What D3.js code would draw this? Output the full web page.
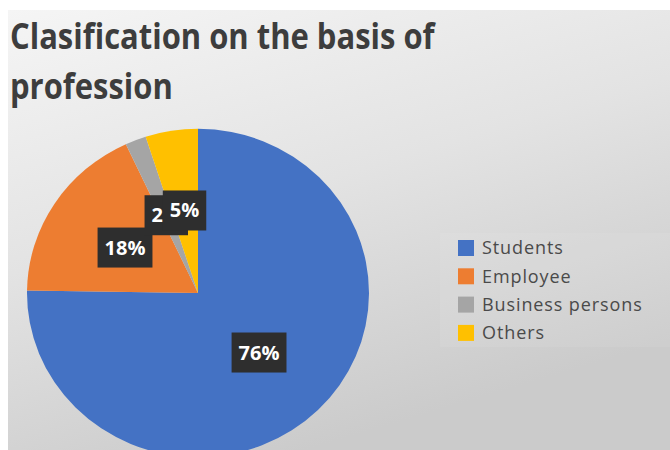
<!DOCTYPE html>
<html>
<head>
  <meta charset="utf-8" />
  <style>
    body { margin: 0; background: #fff; }
    text { font-family: "Open Sans", "Noto Sans", sans-serif; }
  </style>
</head>
<body>
  <svg id="container" width="670" height="450"></svg>
  <script src="https://cdn.jsdelivr.net/npm/d3@7/dist/d3.min.js"></script>
<script>
var categories = ['Students', 'Employee', 'Business persons', 'Others'];
var shares = [76, 18, 2, 5];
var colors = ['#4472c4', '#ed7d31', '#a5a5a5', '#ffc000'];
var titleLines = ['Clasification on the basis of', 'profession'];

var svg = d3.select('#container');

// background, photographed screen: light at the top, greyer to the bottom right
var defs = svg.append('defs');
var grad = defs.append('linearGradient')
  .attr('id', 'bg')
  .attr('x1', 0).attr('y1', 0).attr('x2', 0.45).attr('y2', 1);
grad.append('stop').attr('offset', 0).attr('stop-color', '#f5f5f5');
grad.append('stop').attr('offset', 0.5).attr('stop-color', '#e3e3e3');
grad.append('stop').attr('offset', 1).attr('stop-color', '#cbcbcb');

svg.append('rect')
  .attr('x', 8).attr('y', 10)
  .attr('width', 662).attr('height', 440)
  .attr('fill', 'url(#bg)');

// title (font squeezed a little to match the narrower original face)
svg.append('text')
  .attr('transform', 'translate(10,0) scale(0.885,1)')
  .attr('fill', '#3d3d3d')
  .attr('font-size', 35)
  .attr('font-weight', 700)
  .selectAll('tspan')
  .data(titleLines)
  .enter().append('tspan')
    .attr('x', 0)
    .attr('y', function (d, i) { return 49 + i * 50; })
    .text(function (d) { return d; });

// pie, a touch flattened like the photo
var cx = 198, cy = 293, R = 171, squash = 0.96;

var pie = d3.pie().sort(null).value(function (d) { return d; });
var arcs = pie(shares);
var arc = d3.arc().innerRadius(0).outerRadius(R);
var labelArc = d3.arc().innerRadius(87).outerRadius(87);

var g = svg.append('g')
  .attr('transform', 'translate(' + cx + ',' + cy + ')');

g.append('g')
  .attr('transform', 'scale(1,' + squash + ')')
  .selectAll('path')
  .data(arcs)
  .enter().append('path')
    .attr('d', arc)
    .attr('fill', function (d, i) { return colors[i]; });

// data labels: dark boxes with white text
var labels = g.selectAll('g.lbl')
  .data(arcs)
  .enter().append('g')
    .attr('class', 'lbl')
    .attr('transform', function (d) {
      var c = labelArc.centroid(d);
      return 'translate(' + c[0] + ',' + (c[1] * squash) + ')';
    });

labels.append('rect').attr('fill', '#2e2e2e');
labels.append('text')
  .attr('text-anchor', 'middle')
  .attr('dy', '0.35em')
  .attr('fill', '#fff')
  .attr('font-size', 20)
  .attr('font-weight', 700)
  .text(function (d) { return d.data + '%'; });

labels.each(function () {
  var b = d3.select(this).select('text').node().getBBox();
  d3.select(this).select('rect')
    .attr('x', b.x - 7).attr('y', -20)
    .attr('width', b.width + 14).attr('height', 40);
});

// legend (faint lighter panel behind it)
svg.append('rect')
  .attr('x', 440).attr('y', 233)
  .attr('width', 230).attr('height', 114)
  .attr('fill', '#ffffff').attr('opacity', 0.07);

var legend = svg.append('g').attr('transform', 'translate(458,248)');
var rows = legend.selectAll('g')
  .data(categories)
  .enter().append('g')
    .attr('transform', function (d, i) { return 'translate(0,' + (i * 28.3) + ')'; });

rows.append('rect')
  .attr('x', 0).attr('y', -8)
  .attr('width', 16).attr('height', 16)
  .attr('fill', function (d, i) { return colors[i]; });

rows.append('text')
  .attr('x', 24)
  .attr('dy', '0.36em')
  .attr('fill', '#4a4a4a')
  .attr('font-family', '"DejaVu Sans", sans-serif')
  .attr('font-size', 18)
  .attr('letter-spacing', 0.9)
  .text(function (d) { return d; });
</script>
</body>
</html>
